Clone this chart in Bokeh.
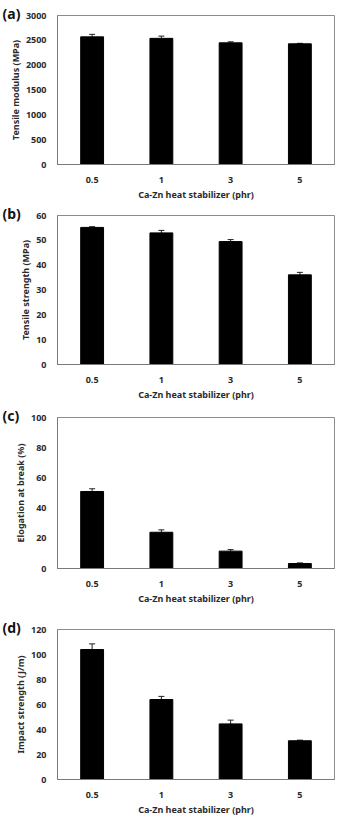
from bokeh.plotting import figure
from bokeh.layouts import column
from bokeh.models import ColumnDataSource, FactorRange, Range1d, Whisker, TeeHead, SingleIntervalTicker
from bokeh.embed import file_html
from bokeh.resources import INLINE

# Ca-Zn heat stabilizer loading (phr)
stabilizer = ["0.5", "1", "3", "5"]

tensile_modulus = [2570, 2540, 2450, 2430]
tensile_modulus_err = [50, 45, 20, 10]

tensile_strength = [55.2, 53.0, 49.5, 36.1]
tensile_strength_err = [0.3, 1.0, 0.8, 1.0]

elongation = [51.0, 24.0, 11.5, 3.3]
elongation_err = [1.8, 1.6, 1.0, 0.4]

impact_strength = [104.0, 64.0, 44.5, 31.0]
impact_strength_err = [4.5, 2.5, 3.0, 0.5]

FONT = "Noto Sans"
TEXT = "#2b2b2b"
W = 341


def panel(tag, values, errors, ylabel, ymax, step, height, top, bottom):
    src = ColumnDataSource(dict(
        x=stabilizer, y=values,
        lo=[v - e for v, e in zip(values, errors)],
        hi=[v + e for v, e in zip(values, errors)],
    ))
    p = figure(x_range=FactorRange(*stabilizer, range_padding=0),
               y_range=Range1d(0, ymax),
               width=W, height=height, output_backend="svg",
               toolbar_location=None,
               min_border_left=57, min_border_right=7,
               min_border_top=top, min_border_bottom=bottom)
    p.vbar(x="x", top="y", width=0.33, source=src,
           fill_color="black", line_color="black")
    p.add_layout(Whisker(base="x", lower="lo", upper="hi", source=src,
                         line_color="#222222", line_width=1,
                         lower_head=TeeHead(size=6, line_color="#222222"),
                         upper_head=TeeHead(size=6, line_color="#222222")))
    p.xgrid.visible = False
    p.ygrid.visible = False
    p.outline_line_color = "#8c8c8c"
    p.outline_line_width = 1
    p.yaxis.ticker = SingleIntervalTicker(interval=step)
    for ax in (p.xaxis[0], p.yaxis[0]):
        ax.axis_line_color = "#7a7a7a"
        ax.major_tick_line_color = None
        ax.minor_tick_line_color = None
        ax.major_label_text_font = FONT
        ax.major_label_text_font_style = "bold"
        ax.major_label_text_font_size = "9px"
        ax.major_label_text_color = TEXT
        ax.axis_label_text_font = FONT
        ax.axis_label_text_font_style = "bold"
        ax.axis_label_text_font_size = "9px"
        ax.axis_label_text_color = TEXT
    p.xaxis.axis_label = "Ca-Zn heat stabilizer (phr)"
    p.xaxis.major_label_standoff = 6
    p.xaxis.axis_label_standoff = 2
    p.yaxis.axis_label = ylabel
    p.yaxis.major_label_standoff = 5
    p.yaxis.axis_label_standoff = 1
    # panel tag, drawn as a left-shifted title level with the frame top
    p.title.text = tag
    p.title.align = "left"
    p.title.offset = -55
    p.title.standoff = -14
    p.title.text_font = FONT
    p.title.text_font_style = "bold"
    p.title.text_font_size = "14px"
    p.title.text_color = "#111111"
    return p


pa = panel("(a)", tensile_modulus, tensile_modulus_err, "Tensile modulus (MPa)",
           3000, 500, 204, 15, 40)
pb = panel("(b)", tensile_strength, tensile_strength_err, "Tensile strength (MPa)",
           60, 10, 200, 11, 40)
pc = panel("(c)", elongation, elongation_err, "Elogation at break (%)",
           100, 20, 204, 13, 40)
pd = panel("(d)", impact_strength, impact_strength_err, "Impact strength (J/m)",
           120, 20, 210, 21, 38)

layout = column(pa, pb, pc, pd, spacing=0)
open("out.html", "w").write(file_html(layout, INLINE))
